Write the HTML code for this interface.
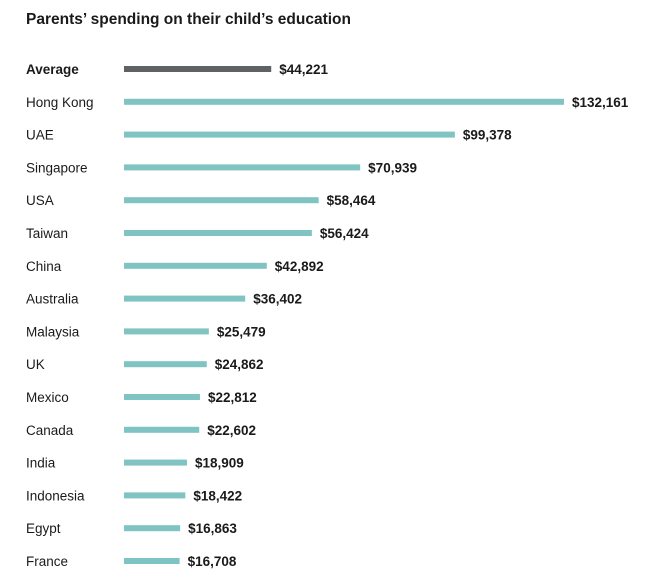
<!DOCTYPE html>
<html><head><meta charset="utf-8"><style>
body{margin:0;background:#fff;width:664px;height:583px;overflow:hidden}
text{font-family:"Liberation Sans",Arial,sans-serif;font-size:13.5px;fill:#1a1a1a}
.v{font-weight:bold}
</style></head><body>
<svg width="664" height="583" xmlns="http://www.w3.org/2000/svg">
<text x="26" y="24" style="font-weight:bold;font-size:15.5px">Parents’ spending on their child’s education</text>
<g id="g"></g>
</svg>
<script>
var d=[["Average",44221],["Hong Kong",132161],["UAE",99378],["Singapore",70939],["USA",58464],["Taiwan",56424],["China",42892],["Australia",36402],["Malaysia",25479],["UK",24862],["Mexico",22812],["Canada",22602],["India",18909],["Indonesia",18422],["Egypt",16863],["France",16708]];
var s="",k=440/132161;
d.forEach(function(r,i){var y=69+i*32.8,w=r[1]*k;
s+='<text x="26" y="'+(y+5)+'"'+(i==0?' class="v"':'')+'>'+r[0]+'</text>';
s+='<rect x="124" y="'+(y-3)+'" width="'+w+'" height="6" fill="'+(i==0?'#5f6265':'#7fc3c2')+'"/>';
s+='<text class="v" x="'+(124+w+8)+'" y="'+(y+5)+'">$'+r[1].toLocaleString("en-US")+'</text>';});
document.getElementById("g").innerHTML=s;
</script>
</body></html>
